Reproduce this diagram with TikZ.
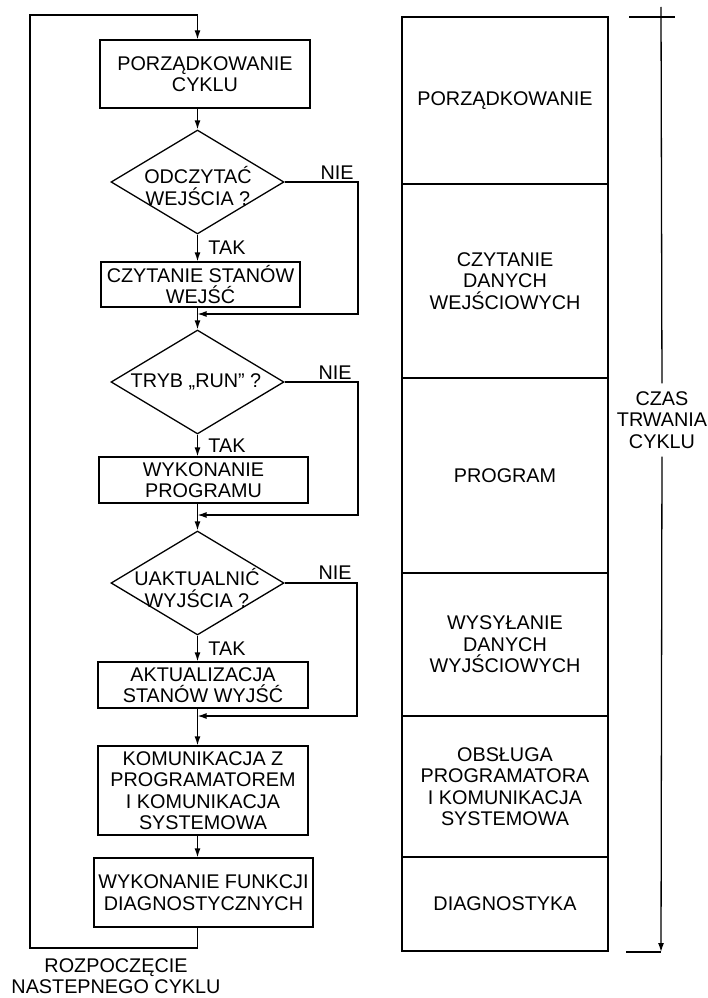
\documentclass[tikz,border=0pt]{standalone}
\usepackage{fontspec}
\setmainfont{Liberation Sans}
\usetikzlibrary{shapes.geometric,arrows.meta}
\begin{document}
\begin{tikzpicture}[x=1pt,y=-1pt,
  every node/.style={font=\fontsize{19.8}{21.5}\selectfont},
  ln/.style={line width=1.3pt},
  box/.style={draw,ln,inner sep=0pt,align=center},
  dia/.style={draw,ln,diamond,inner sep=0pt,minimum width=173pt,minimum height=104pt},
  txt/.style={align=center,inner sep=0pt},
  arr/.style={ln,-{Latex[length=9pt,width=6pt]}},
  seg/.style={draw,ln,inner sep=0pt,align=center,minimum width=206pt}]
\useasboundingbox (0,0) rectangle (707,998);
\fill[white] (0,0) rectangle (707,998);
% left flowchart
\node[box,minimum width=210pt,minimum height=68pt] (b1) at (205,74) {PORZĄDKOWANIE\\CYKLU};
\node[dia] (d1) at (197.5,182) {};
\node[txt] (t1) at (198,186) {ODCZYTAĆ\\WEJŚCIA ?};
\node[box,minimum width=199pt,minimum height=45pt] (b2) at (200.5,284.5) {CZYTANIE STANÓW\\WEJŚĆ};
\node[dia] (d2) at (197.5,382) {};
\node[txt] (t2) at (196,382) {TRYB „RUN” ?};
\node[box,minimum width=209pt,minimum height=46pt] (b3) at (203.5,480) {WYKONANIE\\PROGRAMU};
\node[dia] (d3) at (197.5,583) {};
\node[txt] (t3) at (197,588) {UAKTUALNIĆ\\WYJŚCIA ?};
\node[box,minimum width=210pt,minimum height=46pt] (b4) at (203,685) {AKTUALIZACJA\\STANÓW WYJŚĆ};
\node[box,minimum width=210pt,minimum height=89pt] (b5) at (203,790.5) {KOMUNIKACJA Z\\PROGRAMATOREM\\I KOMUNIKACJA\\SYSTEMOWA};
\node[box,minimum width=219pt,minimum height=69pt] (b6) at (203.5,892.5) {WYKONANIE FUNKCJI\\DIAGNOSTYCZNYCH};
% labels
\node[txt] (nie1) at (337,173) {NIE};
\node[txt] (nie2) at (335,373) {NIE};
\node[txt] (nie3) at (335,573) {NIE};
\node[txt] (tak1) at (227,248) {TAK};
\node[txt] (tak2) at (227,446) {TAK};
\node[txt] (tak3) at (227,649) {TAK};
\node[txt] (roz) at (116,976) {ROZPOCZĘCIE\\NASTEPNEGO CYKLU};
% coordinates
\coordinate (lt) at (30,15);
\coordinate (lb) at (30,948);
\coordinate (n1) at (358,314);
\coordinate (n2) at (358,515);
\coordinate (n3) at (357,716);
% connectors
\draw[arr] (d3.south |- b6.south) -- (d3.south |- lb) -- (lb) -- (lt) -- (d1.north |- lt) -- (d1.north |- b1.north);
\draw[arr] (d1.north |- b1.south) -- (d1.north);
\draw[arr] (d1.south) -- (d1.south |- b2.north);
\draw[arr] (d1.east) -| (n1) -- (d1.south |- n1);
\draw[arr] (d1.south |- b2.south) -- (d2.north);
\draw[arr] (d2.south) -- (d2.south |- b3.north);
\draw[arr] (d2.east) -| (n2) -- (d2.south |- n2);
\draw[arr] (d2.south |- b3.south) -- (d3.north);
\draw[arr] (d3.south) -- (d3.south |- b4.north);
\draw[arr] (d3.east) -| (n3) -- (d3.south |- n3);
\draw[arr] (d3.south |- b4.south) -- (d3.south |- b5.north);
\draw[arr] (d3.south |- b5.south) -- (d3.south |- b6.north);
% right column
\node[seg,minimum height=167pt] (r1) at (505,100.5) {PORZĄDKOWANIE};
\node[seg,minimum height=194pt] (r2) at (505,281) {CZYTANIE\\DANYCH\\WEJŚCIOWYCH};
\node[seg,minimum height=195pt] (r3) at (505,475.5) {PROGRAM};
\node[seg,minimum height=143pt] (r4) at (505,644.5) {WYSYŁANIE\\DANYCH\\WYJŚCIOWYCH};
\node[seg,minimum height=141pt] (r5) at (505,786.5) {OBSŁUGA\\PROGRAMATORA\\I KOMUNIKACJA\\SYSTEMOWA};
\node[seg,minimum height=94pt] (r6) at (505,904) {DIAGNOSTYKA};
% time axis
\node[txt] (czas) at (662,420) {CZAS\\TRWANIA\\CYKLU};
\coordinate (tt) at (661,7);
\coordinate (tb) at (661,952);
\coordinate (k1a) at (629,17);
\coordinate (k1b) at (675,17);
\coordinate (k2a) at (626,952);
\draw[ln,shorten >=8pt] (tt) -- (czas.north);
\draw[arr,shorten <=8pt] (czas.south) -- (tb);
\draw[ln] (k1a) -- (k1b);
\draw[ln] (k2a) -- (tb);
\end{tikzpicture}
\end{document}
